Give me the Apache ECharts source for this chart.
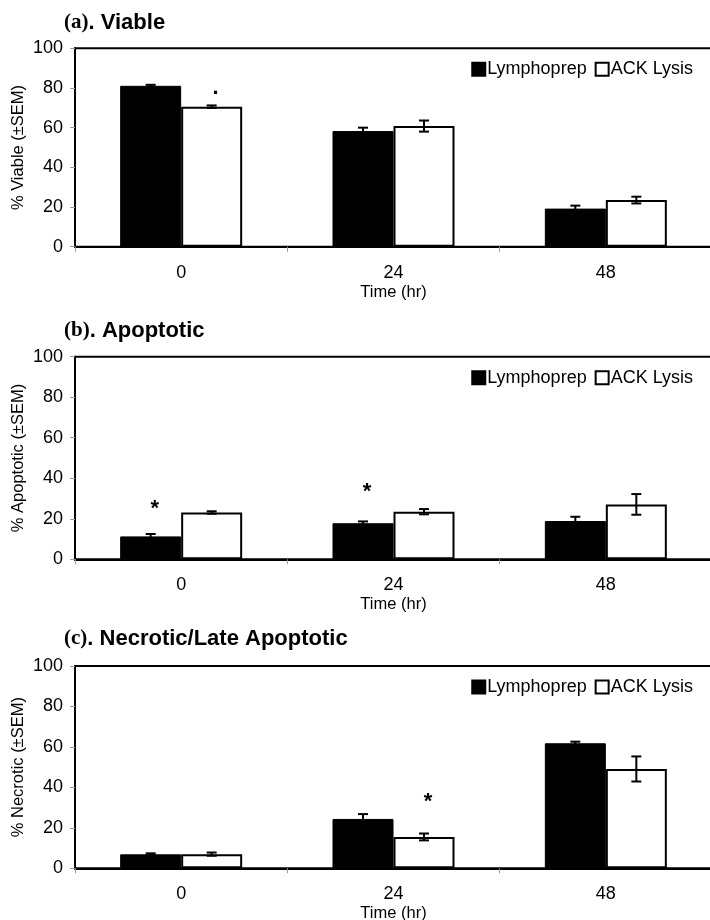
<!DOCTYPE html>
<html><head><meta charset="utf-8">
<script src="https://cdn.jsdelivr.net/npm/echarts@6/dist/echarts.min.js"></script>
<style>html,body{margin:0;padding:0;background:#fff}#c{width:710px;height:920px}</style>
</head><body><div id="c"></div>
<script>
// ---- data ----
const categories = ['0', '24', '48'];
const seriesNames = ['Lymphoprep', 'ACK Lysis'];
const panelLetters = ['(a)', '(b)', '(c)'];
const panelTitles = ['. Viable', '. Apoptotic', '. Necrotic/Late Apoptotic'];
const yAxisNames = ['% Viable (±SEM)', '% Apoptotic (±SEM)', '% Necrotic (±SEM)'];
const xAxisName = 'Time (hr)';
const yMin = 0, yMax = 100, yStep = 20;

const viableLympho = [81.1, 58.3, 19.2];
const viableLymphoSem = [0.5, 1.7, 1.5];
const viableAck = [70.6, 60.8, 23.5];
const viableAckSem = [0.6, 2.8, 1.7];

const apoptoticLympho = [11.3, 17.8, 18.9];
const apoptoticLymphoSem = [1.2, 0.9, 2.1];
const apoptoticAck = [23.1, 23.5, 27.1];
const apoptoticAckSem = [0.6, 1.3, 5.1];

const necroticLympho = [6.9, 24.4, 61.8];
const necroticLymphoSem = [0.5, 2.4, 0.8];
const necroticAck = [7.0, 15.5, 49.1];
const necroticAckSem = [0.8, 1.7, 6.2];

// annotation marks: panel, category index, series index, y value, text
const annotPanel = [0, 1, 1, 2];
const annotCat = [0, 0, 1, 1];
const annotSeries = [1, 0, 0, 1];
const annotY = [76.8, 26.8, 35.0, 34.9];
const annotText = ['.', '*', '*', '*'];

// ---- layout/styles ----
const panels = [
  {lympho: viableLympho, lymphoSem: viableLymphoSem, ack: viableAck, ackSem: viableAckSem},
  {lympho: apoptoticLympho, lymphoSem: apoptoticLymphoSem, ack: apoptoticAck, ackSem: apoptoticAckSem},
  {lympho: necroticLympho, lymphoSem: necroticLymphoSem, ack: necroticAck, ackSem: necroticAckSem}
];
const gridTops = [48.3, 356.7, 666];
const gridHeights = [198.4, 202.6, 202.3];
const titleTops = [7, 315, 623];
const BAR_W = 61;
const SANS = '"Liberation Sans", Arial, sans-serif';
const SERIF = '"Liberation Serif", "Times New Roman", serif';

const grids = [], xAxes = [], yAxes = [], series = [], titles = [], legends = [];
panels.forEach((p, i) => {
  grids.push({left: 75, width: 637, top: gridTops[i], height: gridHeights[i],
    containLabel: false, outerBoundsMode: 'none',
    show: true, borderColor: '#000', borderWidth: 2, backgroundColor: 'transparent'});
  xAxes.push({type: 'category', gridIndex: i, data: categories,
    axisLine: {lineStyle: {color: '#000', width: 2}},
    axisTick: {show: true, alignWithLabel: false, length: 5, lineStyle: {color: '#999', width: 1}},
    axisLabel: {color: '#000', fontSize: 18, fontFamily: SANS, margin: 17},
    name: xAxisName, nameLocation: 'middle', nameGap: 37,
    nameTextStyle: {color: '#000', fontSize: 16.5, fontFamily: SANS},
    splitLine: {show: false}});
  yAxes.push({type: 'value', gridIndex: i, min: yMin, max: yMax, interval: yStep,
    axisLine: {show: true, lineStyle: {color: '#000', width: 2}},
    axisTick: {show: true, length: 5, lineStyle: {color: '#999', width: 1}},
    axisLabel: {color: '#000', fontSize: 18, fontFamily: SANS, margin: 12},
    splitLine: {show: false},
    name: yAxisNames[i], nameLocation: 'middle', nameGap: 48, nameMoveOverlap: false,
    nameTextStyle: {color: '#000', fontSize: 16.5, fontFamily: SANS}});
  titles.push({left: 62, top: titleTops[i], padding: [5, 5, 5, 2],
    text: '{s|' + panelLetters[i] + '}{b|' + panelTitles[i] + '}',
    textStyle: {rich: {
      s: {fontFamily: SERIF, fontSize: 21, color: '#000'},
      b: {fontFamily: SANS, fontSize: 22, fontWeight: 'bold', color: '#000'}}}});
  legends.push({right: 17, top: gridTops[i] + 12, padding: 0, itemGap: 8,
    itemWidth: 13, itemHeight: 13, icon: 'rect', data: seriesNames,
    textStyle: {color: '#000', fontSize: 18, fontFamily: SANS, padding: [0, 0, 0, -3]}});

  series.push({type: 'bar', name: seriesNames[0], xAxisIndex: i, yAxisIndex: i,
    data: p.lympho, barWidth: BAR_W, barGap: '0%',
    itemStyle: {color: '#000', borderColor: '#000', borderWidth: 1}});
  series.push({type: 'bar', name: seriesNames[1], xAxisIndex: i, yAxisIndex: i,
    data: p.ack, barWidth: BAR_W, barGap: '0%',
    itemStyle: {color: '#fff', borderColor: '#000', borderWidth: 2}});

  [[p.lympho, p.lymphoSem, -1], [p.ack, p.ackSem, 1]].forEach(([vals, sems, side]) => {
    series.push({type: 'custom', xAxisIndex: i, yAxisIndex: i, z: 5, silent: true,
      data: vals.map((v, k) => [k, v, sems[k]]),
      renderItem: (params, api) => {
        const c = api.value(0), v = api.value(1), s = api.value(2);
        const t = api.coord([c, v + s]), b = api.coord([c, v - s]);
        const x = t[0] + side * BAR_W / 2;
        const st = {stroke: '#000', lineWidth: 2};
        return {type: 'group', children: [
          {type: 'line', shape: {x1: x, y1: t[1], x2: x, y2: b[1]}, style: st},
          {type: 'line', shape: {x1: x - 5, y1: t[1], x2: x + 5, y2: t[1]}, style: st},
          {type: 'line', shape: {x1: x - 5, y1: b[1], x2: x + 5, y2: b[1]}, style: st}
        ]};
      }});
  });

  const idx = annotPanel.map((pp, k) => pp === i ? k : -1).filter(k => k >= 0);
  if (idx.length) {
    series.push({type: 'custom', xAxisIndex: i, yAxisIndex: i, z: 6, silent: true,
      data: idx.map(k => [annotCat[k], annotY[k], annotSeries[k], k]),
      renderItem: (params, api) => {
        const pt = api.coord([api.value(0), api.value(1)]);
        const side = api.value(2) === 0 ? -1 : 1;
        const k = api.value(3);
        const isStar = annotText[k] === '*';
        return {type: 'text', x: pt[0] + side * BAR_W / 2 + 4, y: pt[1] + (isStar ? 4 : -6),
          style: {text: annotText[k], fill: '#000', font: 'bold 22px ' + SANS,
            align: 'center', verticalAlign: 'middle'}};
      }});
  }
});

const chart = echarts.init(document.getElementById('c'), null, {renderer: 'canvas'});
chart.setOption({animation: false, backgroundColor: '#fff',
  title: titles, legend: legends, grid: grids, xAxis: xAxes, yAxis: yAxes, series: series});
</script></body></html>
